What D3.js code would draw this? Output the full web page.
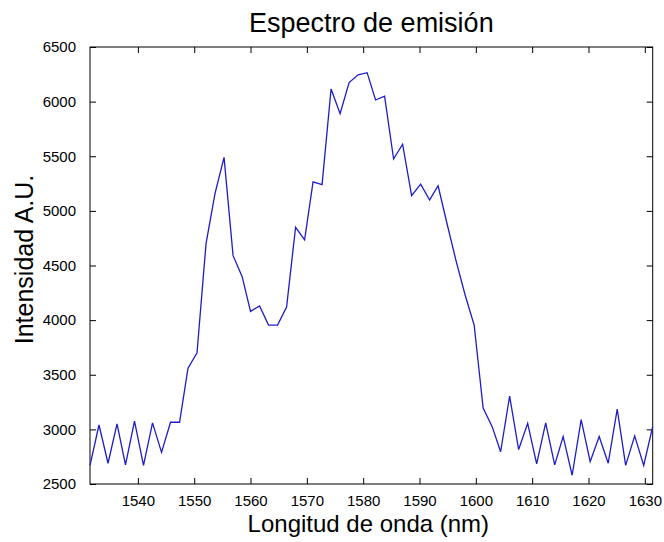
<!DOCTYPE html>
<html>
<head>
<meta charset="utf-8">
<script src="https://cdn.jsdelivr.net/npm/d3@7"></script>
<style>
  body { margin: 0; background: #fff; }
  text { font-family: "Liberation Sans", Arial, sans-serif; fill: #000; }
</style>
</head>
<body>
<div id="chart"></div>
<script>
// wavelength (nm)
var wavelength = [
  1531.5, 1533.1, 1534.7, 1536.3, 1537.8, 1539.4, 1541.0, 1542.6, 1544.2, 1545.8,
  1547.4, 1548.9, 1550.5, 1552.1, 1553.7, 1555.3, 1556.9, 1558.5, 1560.0, 1561.6,
  1563.2, 1564.8, 1566.4, 1568.0, 1569.6, 1571.1, 1572.7, 1574.3, 1575.9, 1577.5,
  1579.1, 1580.7, 1582.2, 1583.8, 1585.4, 1587.0, 1588.6, 1590.2, 1591.8, 1593.3,
  1594.9, 1596.5, 1598.1, 1599.7, 1601.3, 1602.9, 1604.4, 1606.0, 1607.6, 1609.2,
  1610.8, 1612.4, 1614.0, 1615.5, 1617.1, 1618.7, 1620.3, 1621.9, 1623.5, 1625.1,
  1626.6, 1628.2, 1629.8, 1631.4
];
// intensity (A.U.)
var intensity = [
  2670, 3040, 2690, 3050, 2675, 3075, 2670, 3060, 2790, 3065,
  3065, 3560, 3700, 4700, 5160, 5490, 4590, 4400, 4080, 4130,
  3955, 3955, 4120, 4850, 4735, 5265, 5240, 6115, 5890, 6175,
  6245, 6265, 6015, 6050, 5475, 5610, 5140, 5245, 5100, 5230,
  4880, 4540, 4230, 3955, 3195, 3025, 2795, 3305, 2815, 3055,
  2685, 3060, 2675, 2935, 2580, 3090, 2705, 2935, 2690, 3185,
  2670, 2940, 2670, 3025
];
var xTicks = [1540, 1550, 1560, 1570, 1580, 1590, 1600, 1610, 1620, 1630];
var yTicks = [2500, 3000, 3500, 4000, 4500, 5000, 5500, 6000, 6500];

var W = 664, H = 542;
var margin = {top: 47, right: 11.3, bottom: 58, left: 90},
    width = W - margin.left - margin.right,
    height = H - margin.top - margin.bottom;

var svg = d3.select("#chart").append("svg")
    .attr("width", W)
    .attr("height", H);

var g = svg.append("g")
    .attr("transform", "translate(" + margin.left + "," + margin.top + ")");

var x = d3.scaleLinear()
    .domain(d3.extent(wavelength))
    .range([0, width]);
var y = d3.scaleLinear()
    .domain([2500, 6500])
    .range([height, 0]);

var data = wavelength.map(function(w, i) { return {w: w, v: intensity[i]}; });

// box
g.append("rect")
    .attr("width", width).attr("height", height)
    .attr("fill", "#fff").attr("stroke", "#000").attr("stroke-width", 1);

// ticks on all four sides, pointing inward
var tl = 6;
g.append("g")
    .attr("transform", "translate(0," + height + ")")
    .call(d3.axisBottom(x).tickValues(xTicks).tickSizeInner(-tl).tickSizeOuter(0).tickPadding(11).tickFormat(d3.format("d")))
    .call(function(s) { s.select(".domain").remove(); });
g.append("g")
    .call(d3.axisTop(x).tickValues(xTicks).tickSizeInner(-tl).tickSizeOuter(0).tickFormat(""))
    .call(function(s) { s.select(".domain").remove(); });
g.append("g")
    .call(d3.axisLeft(y).tickValues(yTicks).tickSizeInner(-tl).tickSizeOuter(0).tickPadding(14).tickFormat(d3.format("d")))
    .call(function(s) { s.select(".domain").remove(); });
g.append("g")
    .attr("transform", "translate(" + width + ",0)")
    .call(d3.axisRight(y).tickValues(yTicks).tickSizeInner(-tl).tickSizeOuter(0).tickFormat(""))
    .call(function(s) { s.select(".domain").remove(); });

g.selectAll(".tick line").attr("stroke", "#000");
g.selectAll(".tick text")
    .attr("font-size", 15)
    .attr("font-family", "'Liberation Sans', Arial, sans-serif")
    .attr("fill", "#000");

// spectrum line
var line = d3.line()
    .x(function(d) { return x(d.w); })
    .y(function(d) { return y(d.v); });

g.append("path")
    .datum(data)
    .attr("d", line)
    .attr("fill", "none")
    .attr("stroke", "#1c1cc8")
    .attr("stroke-width", 1.3);

// titles
svg.append("text")
    .attr("x", margin.left + width / 2)
    .attr("y", 32)
    .attr("text-anchor", "middle")
    .attr("font-size", 27)
    .text("Espectro de emisión");

svg.append("text")
    .attr("x", margin.left + width / 2 - 3)
    .attr("y", 532)
    .attr("text-anchor", "middle")
    .attr("font-size", 24)
    .text("Longitud de onda (nm)");

svg.append("text")
    .attr("transform", "translate(33," + (margin.top + height / 2 - 6) + ") rotate(-90)")
    .attr("text-anchor", "middle")
    .attr("font-size", 25)
    .text("Intensidad A.U.");
</script>
</body>
</html>
